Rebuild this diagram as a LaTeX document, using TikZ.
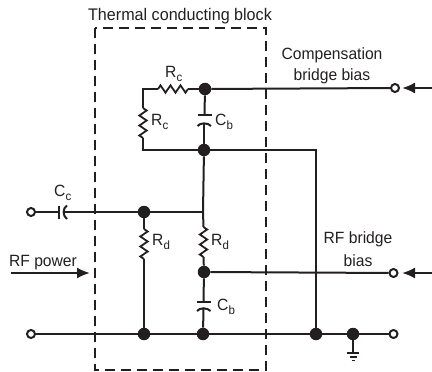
\documentclass[tikz,border=0pt]{standalone}
\usepackage{fontspec}
\setmainfont[FakeStretch=0.96]{Liberation Sans}
\usetikzlibrary{decorations.pathmorphing,arrows.meta}
\definecolor{ink}{HTML}{231F20}
\tikzset{
  wire/.style={line width=2pt,draw=ink},
  res/.style={line width=1.8pt,draw=ink,line join=miter,decorate,decoration={zigzag,segment length=10pt,amplitude=3.7pt}},
  junction/.style={circle,fill=ink,inner sep=0pt,minimum size=12.5pt},
  term/.style={circle,draw=ink,fill=white,line width=2pt,inner sep=0pt,minimum size=8pt},
  lab/.style={text=ink,inner sep=0pt,font=\fontsize{16.3}{18}\selectfont},
  sig/.style={line width=2pt,draw=ink,-{Latex[length=13pt,width=11pt,sharp]}},
  block/.style={line width=2pt,draw=ink,dash pattern=on 10pt off 6pt}
}
\newcommand{\subl}[2]{#1\raisebox{-3.5pt}{\fontsize{12}{12}\selectfont #2}}
\begin{document}
\begin{tikzpicture}[x=1pt,y=-1pt]
\useasboundingbox (0,0) rectangle (432,372);
% block
\draw[block] (95,28) rectangle (266,370);
% junctions
\node[junction] (top) at (205,89) {};
\node[junction] (mid) at (204,150) {};
\node[junction] (dl) at (144,212) {};
\node[junction] (dr) at (204,272) {};
\node[junction] (bl) at (144,334) {};
\node[junction] (bm) at (203,334) {};
\node[junction] (br) at (316,334) {};
\node[junction] (bg) at (353,334) {};
% terminals
\node[term] (tcb) at (395,88) {};
\node[term] (trb) at (393.5,273) {};
\node[term] (tcc) at (31,212) {};
\node[term] (tbl) at (31,334) {};
\node[term] (tbr) at (393.5,334) {};
% free coordinates
\coordinate (tl) at (143,89);
\coordinate (bl2) at (143,150);
\coordinate (rh1) at (158,89);
\coordinate (rh2) at (188,89);
\coordinate (rv1) at (143,108);
\coordinate (rv2) at (143,138);
\coordinate (cbu) at (204.5,115);
\coordinate (cbl) at (204,122.5);
\coordinate (cc1) at (58.5,212);
\coordinate (cc2) at (63.5,212);
\coordinate (tee) at (203,212);
\coordinate (rd1) at (144,229);
\coordinate (rd2) at (144,259);
\coordinate (re1) at (203.5,227);
\coordinate (re2) at (203.5,257);
\coordinate (cdu) at (203.5,302);
\coordinate (cdl) at (203.5,307.5);
\coordinate (corner) at (316,150);
\coordinate (gnd) at (353,352);
% wiring
\draw[wire] (top) -- (tcb);
\draw[wire] (top) -- (rh2);
\draw[res] (rh2) -- (rh1);
\draw[wire] (rh1) -- (tl) -- (rv1);
\draw[res] (rv1) -- (rv2);
\draw[wire] (rv2) -- (bl2) -- (mid);
\draw[wire] (top) -- (cbu);
\draw[wire] (mid) -- (cbl);
\draw[wire] (197.5,115) -- (211.5,115);
\draw[wire] (197.5,126) .. controls (200,122.5) and (208,122.5) .. (211,126);
\draw[wire] (mid) -- (corner) -- (br);
\draw[wire] (mid) -- (tee) -- (re1);
\draw[res] (re1) -- (re2);
\draw[wire] (re2) -- (dr);
\draw[wire] (tcc) -- (cc1);
\draw[wire] (58.5,205.5) -- (58.5,219);
\draw[wire] (67,205.5) .. controls (62.5,208) and (62.5,216) .. (67,219);
\draw[wire] (cc2) -- (dl) -- (tee);
\draw[wire] (dl) -- (rd1);
\draw[res] (rd1) -- (rd2);
\draw[wire] (rd2) -- (bl);
\draw[wire] (dr) -- (trb);
\draw[wire] (dr) -- (cdu);
\draw[wire] (197,302) -- (211,302);
\draw[wire] (197,311) .. controls (199.5,307.5) and (207.5,307.5) .. (210.5,311);
\draw[wire] (cdl) -- (bm);
\draw[wire] (tbl) -- (bl) -- (bm) -- (br) -- (bg) -- (tbr);
\draw[wire] (bg) -- (gnd);
\draw[wire] (347,353) -- (359,353);
\draw[wire,line width=1.7pt] (349.5,357) -- (356.5,357);
\draw[wire,line width=1.7pt] (351.5,360.5) -- (354.5,360.5);
% signal arrows
\coordinate (a1) at (432,88); \coordinate (a1t) at (402,88);
\coordinate (a2) at (432,273); \coordinate (a2t) at (402,273);
\coordinate (a3) at (11,273); \coordinate (a3t) at (90,273);
\draw[sig] (a1) -- (a1t);
\draw[sig] (a2) -- (a2t);
\draw[sig] (a3) -- (a3t);
% labels
\node[lab,font=\fontsize{16.8}{18}\selectfont] (title) at (180,16) {Thermal conducting block};
\node[lab,align=center] (comp1) at (332,55) {Compensation};
\node[lab,align=center] (comp2) at (332,76) {bridge bias};
\node[lab] (rfb1) at (358,239) {RF bridge};
\node[lab] (rfb2) at (358,261) {bias};
\node[lab] (rfp) at (43,263) {RF power};
\node[lab,anchor=west] (lrc1) at (165,74) {\subl{R}{c}};
\node[lab,anchor=west] (lrc2) at (151,122) {\subl{R}{c}};
\node[lab,anchor=west] (lcb1) at (215,122) {\subl{C}{b}};
\node[lab,anchor=west] (lcc) at (54,193) {\subl{C}{c}};
\node[lab,anchor=west] (lrd1) at (152,242) {\subl{R}{d}};
\node[lab,anchor=west] (lrd2) at (211,242) {\subl{R}{d}};
\node[lab,anchor=west] (lcb2) at (217,307) {\subl{C}{b}};
\end{tikzpicture}
\end{document}
